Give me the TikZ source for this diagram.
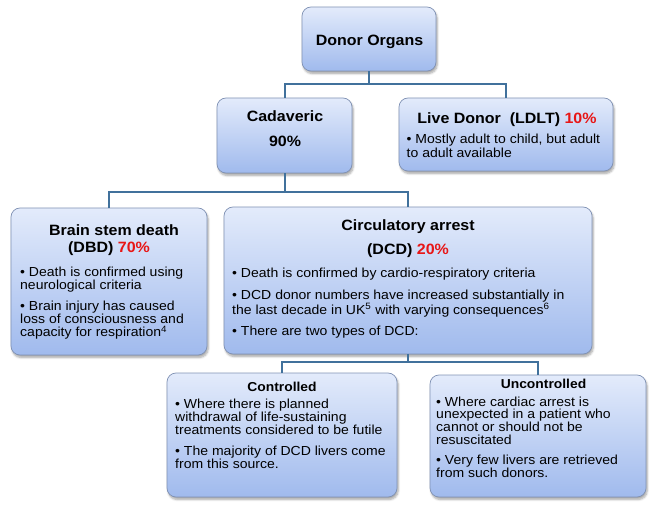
\documentclass[tikz,border=0pt]{standalone}
\usepackage{fontspec}
\setmainfont{Liberation Sans}[FakeStretch=1.07]
\usetikzlibrary{shadows.blur}
\definecolor{conn}{RGB}{65,113,156}
\definecolor{boxtop}{RGB}{227,235,251}
\definecolor{boxbot}{RGB}{160,186,237}
\definecolor{boxline}{RGB}{128,146,180}
\definecolor{pct}{RGB}{232,22,22}
\newcommand{\bodypar}[1]{\parbox[t]{420bp}{\raggedright\fontsize{13.15}{13}\selectfont #1}}
\tikzset{
  orgbox/.style={draw=boxline, line width=0.7bp, rounded corners=9bp,
    top color=boxtop, bottom color=boxbot, inner sep=0pt,
    blur shadow={shadow xshift=1.2bp, shadow yshift=-2.5bp, shadow blur steps=6, shadow opacity=35}},
  ttl/.style={font=\fontsize{15}{17}\selectfont\bfseries, inner sep=0pt, anchor=base},
  subttl/.style={font=\fontsize{13}{15}\selectfont\bfseries, inner sep=0pt, anchor=base},
  bodytxt/.style={inner sep=0pt, anchor=base west},
  connector/.style={draw=conn, line width=2bp}
}
\begin{document}
\begin{tikzpicture}[x=1bp, y=-1bp]
\useasboundingbox (0,0) rectangle (658,513);

% boxes
\node[orgbox, minimum width=134bp, minimum height=64bp] (donor) at (369,39) {};
\node[orgbox, minimum width=135bp, minimum height=75bp] (cad) at (284.5,135.5) {};
\node[orgbox, minimum width=214bp, minimum height=73bp] (live) at (506,134.5) {};
\node[orgbox, minimum width=196bp, minimum height=147bp] (brain) at (109,281.5) {};
\node[orgbox, minimum width=368bp, minimum height=147bp] (circ) at (408,280.5) {};
\node[orgbox, minimum width=230bp, minimum height=124bp] (ctrl) at (282,435) {};
\node[orgbox, minimum width=216bp, minimum height=122bp] (unc) at (538,436) {};

% connectors
\coordinate (j1) at (369,84);
\coordinate (j2) at (284.5,192);
\coordinate (j3) at (408,362);
\draw[connector] (donor.south) -- (j1);
\draw[connector] (cad.north) -- (cad.north |- j1) -- (live.north |- j1) -- (live.north);
\draw[connector] (cad.south) -- (j2);
\draw[connector] (brain.north) -- (brain.north |- j2) -- (circ.north |- j2) -- (circ.north);
\draw[connector] (circ.south) -- (j3);
\draw[connector] (ctrl.north) -- (ctrl.north |- j3) -- (unc.north |- j3) -- (unc.north);

% titles
\node[ttl] (donor-t) at (369.5,45.4) {Donor Organs};
\node[ttl] (cad-t1) at (285,122) {Cadaveric};
\node[ttl] (cad-t2) at (285,146.5) {90\%};
\node[ttl] (live-t) at (507,123.5) {Live Donor~ (LDLT) \textcolor{pct}{10\%}};
\node[ttl] (brain-t1) at (114,235.5) {Brain stem death};
\node[ttl] (brain-t2) at (109,252.5) {(DBD) \textcolor{pct}{70\%}};
\node[ttl] (circ-t1) at (408,230.5) {Circulatory arrest};
\node[ttl] (circ-t2) at (408,255) {(DCD) \textcolor{pct}{20\%}};
\node[subttl] (ctrl-t) at (282,391.3) {Controlled};
\node[subttl] (unc-t) at (543.5,388.7) {Uncontrolled};

% body texts
\node[bodytxt] (live-b) at (406.5,143.5) {\bodypar{• Mostly adult to child, but adult\\[1.5bp]
to adult available}};
\node[bodytxt] (brain-b) at (20,276.5) {\bodypar{• Death is confirmed using\\
neurological criteria\\[8.5bp]
• Brain injury has caused\\
loss of consciousness and\\
capacity for respiration\textsuperscript{4}}};
\node[bodytxt] (circ-b) at (232,277.2) {\bodypar{• Death is confirmed by cardio-respiratory criteria\\[9.5bp]
• DCD donor numbers have increased substantially in\\
the last decade in UK\textsuperscript{5} with varying consequences\textsuperscript{6}\\[8.5bp]
• There are two types of DCD:}};
\node[bodytxt] (ctrl-b) at (175,408.5) {\bodypar{• Where there is planned\\
withdrawal of life-sustaining\\
treatments considered to be futile\\[8.5bp]
• The majority of DCD livers come\\
from this source.}};
\node[bodytxt] (unc-b) at (436,406) {\bodypar{• Where cardiac arrest is\\
unexpected in a patient who\\
cannot or should not be\\
resuscitated\\[6.5bp]
• Very few livers are retrieved\\
from such donors.}};
\end{tikzpicture}
\end{document}
